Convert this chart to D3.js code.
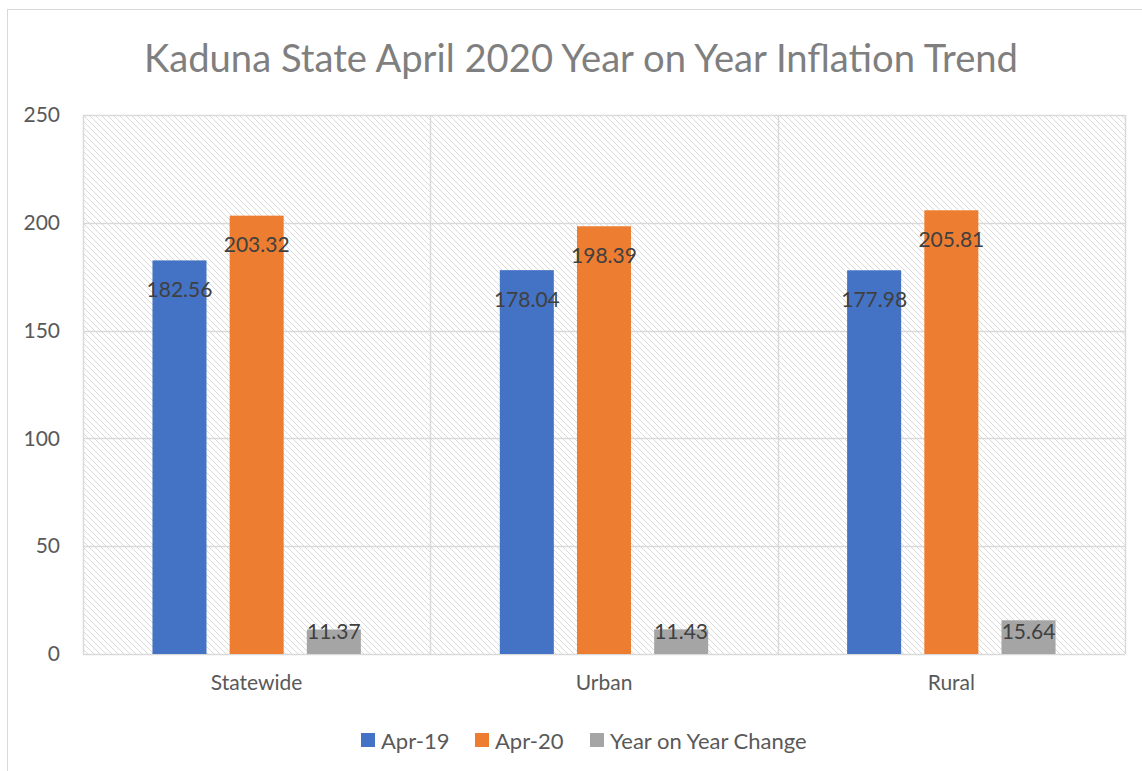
<!DOCTYPE html>
<html>
<head>
<meta charset="utf-8">
<script src="https://cdn.jsdelivr.net/npm/d3@7"></script>
<style>
  body { margin: 0; background: #fff; }
  svg text { font-family: "Lato", "Open Sans", sans-serif; }
</style>
</head>
<body>
<div id="chart"></div>
<script>
var categories = ["Statewide", "Urban", "Rural"];
var seriesNames = ["Apr-19", "Apr-20", "Year on Year Change"];
var apr19 = [182.56, 178.04, 177.98];
var apr20 = [203.32, 198.39, 205.81];
var yoyChange = [11.37, 11.43, 15.64];
var yTicks = [0, 50, 100, 150, 200, 250];

var colors = ["#4472c4", "#ed7d31", "#a5a5a5"];

var width = 1142, height = 771;
var margin = { top: 115, right: 17, bottom: 117, left: 83 };

var data = categories.map(function(c, i) {
    return { cat: c, values: [apr19[i], apr20[i], yoyChange[i]] };
});

var svg = d3.select("#chart").append("svg")
    .attr("width", width)
    .attr("height", height);

// hatch pattern for plot area
var defs = svg.append("defs");
var pat = defs.append("pattern")
    .attr("id", "hatch")
    .attr("patternUnits", "userSpaceOnUse")
    .attr("width", 6)
    .attr("height", 6);
pat.append("path")
    .attr("d", "M-1,-1 L7,7 M-1,5 L1,7 M5,-1 L7,1")
    .attr("stroke", "#dadada")
    .attr("stroke-width", 1);

// chart frame
svg.append("rect")
    .attr("x", 7.5).attr("y", 9.5)
    .attr("width", 1200).attr("height", 900)
    .attr("fill", "none")
    .attr("stroke", "#d9d9d9");

var plotW = width - margin.left - margin.right;
var plotH = height - margin.top - margin.bottom;

var g = svg.append("g")
    .attr("transform", "translate(" + margin.left + "," + margin.top + ")");

var x0 = d3.scaleBand()
    .domain(categories)
    .range([0, plotW])
    .padding(0);

var x1 = d3.scaleBand()
    .domain(seriesNames)
    .range([0, x0.bandwidth()])
    .paddingInner(0.3)
    .paddingOuter(0.9);

var y = d3.scaleLinear()
    .domain([0, 250])
    .range([plotH, 0]);

g.append("rect")
    .attr("x", 0).attr("y", 0)
    .attr("width", plotW).attr("height", plotH)
    .attr("fill", "url(#hatch)");

// horizontal gridlines
g.selectAll(".hgrid")
    .data(yTicks)
    .enter().append("line")
    .attr("x1", 0).attr("x2", plotW)
    .attr("y1", d => Math.round(y(d)) + 0.5)
    .attr("y2", d => Math.round(y(d)) + 0.5)
    .attr("stroke", "#d9d9d9")
    .attr("stroke-width", 1.5);

// vertical gridlines at category edges
var edges = categories.map(c => x0(c)).concat([plotW]);
g.selectAll(".vgrid")
    .data(edges)
    .enter().append("line")
    .attr("x1", d => Math.round(d) + 0.5).attr("x2", d => Math.round(d) + 0.5)
    .attr("y1", 0).attr("y2", plotH)
    .attr("stroke", "#d9d9d9")
    .attr("stroke-width", 1.5);

// y axis labels
var yaxis = d3.axisLeft(y).tickValues(yTicks).tickSize(0).tickPadding(23);
g.append("g")
    .call(yaxis)
    .call(a => a.select(".domain").remove())
    .selectAll("text")
    .attr("font-size", 21)
    .attr("fill", "#595959")
    .style("font-family", "Lato, sans-serif");

// x axis labels
var xaxis = d3.axisBottom(x0).tickSize(0).tickPadding(21);
g.append("g")
    .attr("transform", "translate(0," + plotH + ")")
    .call(xaxis)
    .call(a => a.select(".domain").remove())
    .selectAll("text")
    .attr("font-size", 21)
    .attr("fill", "#595959")
    .style("font-family", "Lato, sans-serif");

// bars
var groups = g.selectAll(".grp")
    .data(data)
    .enter().append("g")
    .attr("transform", d => "translate(" + x0(d.cat) + ",0)");

var bars = groups.selectAll("rect")
    .data(d => d.values.map((v, i) => ({ name: seriesNames[i], value: v, i: i })))
    .enter();

bars.append("rect")
    .attr("x", d => x1(d.name))
    .attr("y", d => y(d.value))
    .attr("width", x1.bandwidth())
    .attr("height", d => plotH - y(d.value))
    .attr("fill", d => colors[d.i]);

bars.append("text")
    .attr("x", d => x1(d.name) + x1.bandwidth() / 2)
    .attr("y", d => Math.min(y(d.value) + 28, plotH - 24))
    .attr("text-anchor", "middle")
    .attr("dominant-baseline", "central")
    .attr("font-size", 21)
    .attr("fill", "#404040")
    .text(d => d.value.toFixed(2));

// title
svg.append("text")
    .attr("x", 581)
    .attr("y", 57)
    .attr("text-anchor", "middle")
    .attr("dominant-baseline", "central")
    .attr("font-size", 38.2)
    .attr("fill", "#7f7f7f")
    .text("Kaduna State April 2020 Year on Year Inflation Trend");

// legend
var legendX = [361, 475, 590];
var legend = svg.selectAll(".legend")
    .data(seriesNames)
    .enter().append("g")
    .attr("transform", (d, i) => "translate(" + legendX[i] + ",740)");

legend.append("rect")
    .attr("x", 0).attr("y", -7)
    .attr("width", 14).attr("height", 14)
    .attr("fill", (d, i) => colors[i]);

legend.append("text")
    .attr("x", 20)
    .attr("y", 0)
    .attr("dominant-baseline", "central")
    .attr("font-size", 22)
    .attr("fill", "#595959")
    .text(d => d);
</script>
</body>
</html>
